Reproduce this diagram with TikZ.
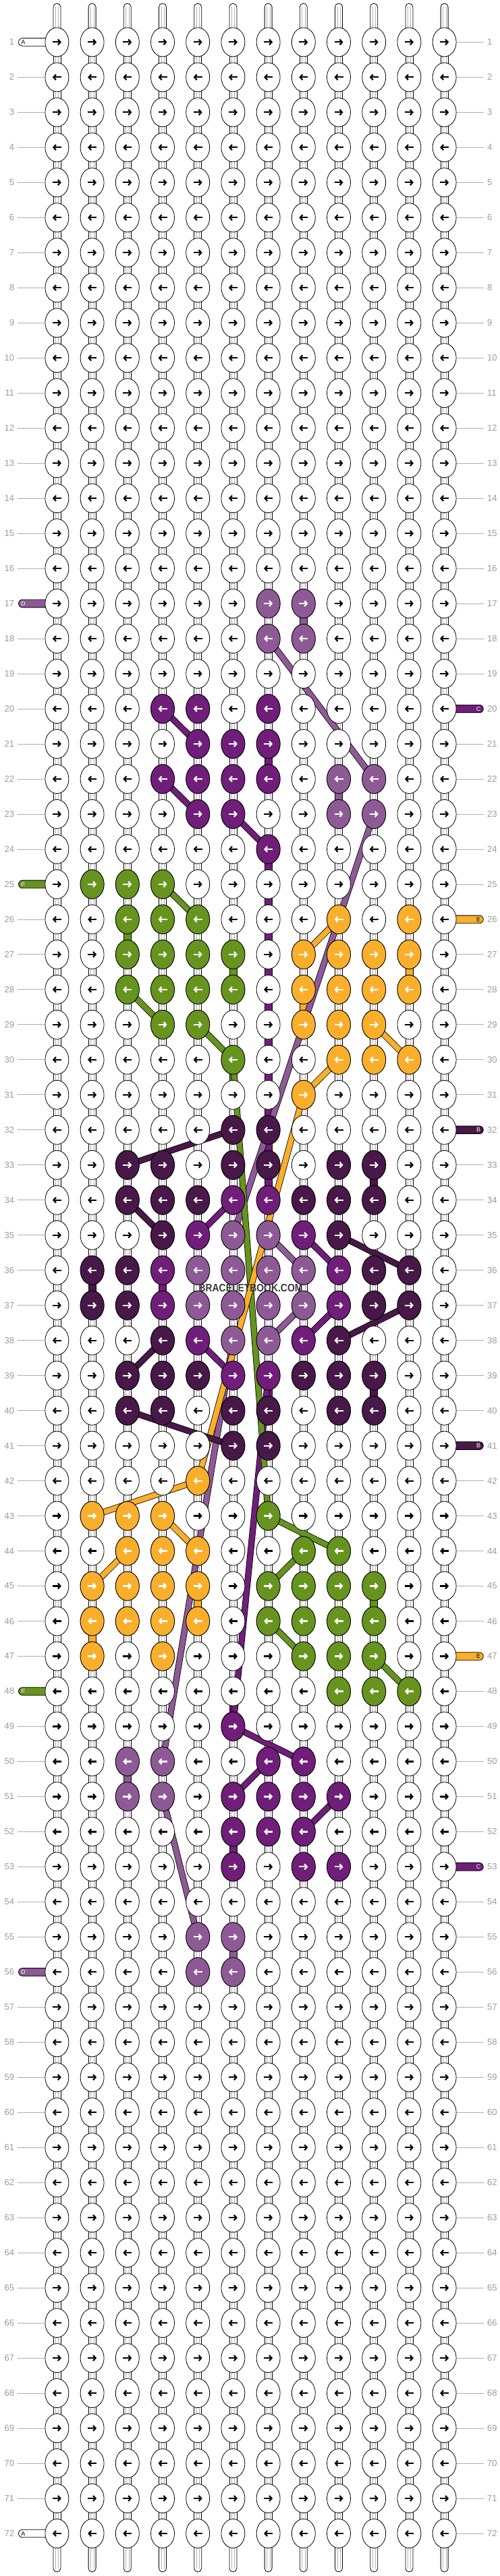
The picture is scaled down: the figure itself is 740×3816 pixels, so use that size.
\documentclass[tikz,border=0pt]{standalone}
\usepackage{fontspec}
\setmainfont{Liberation Sans}
\usetikzlibrary{shapes.geometric,arrows.meta}

\definecolor{thrD}{HTML}{8E5A96}
\definecolor{thrC}{HTML}{701E7A}
\definecolor{thrB}{HTML}{471848}
\definecolor{thrF}{HTML}{66941F}
\definecolor{thrE}{HTML}{F9AF2B}
\definecolor{rowgray}{HTML}{9A9A9A}

\pgfdeclarelayer{vlayer}
\pgfdeclarelayer{tlayer}
\pgfdeclarelayer{hlayer}
\pgfsetlayers{vlayer,tlayer,hlayer,main}

\tikzset{
knot/.style={ellipse, draw, line width=0.8pt, fill=white, inner sep=0pt,
  minimum width=35pt, minimum height=43pt},
knotarr/.style={line width=2.2pt, -{Straight Barb[length=3.6pt,width=8pt]}},
hcon/.style={draw, fill=white, line width=0.8pt},
vcon/.style={draw, fill=#1, line width=0.8pt},
vcon/.default=white,
innerline/.style={draw=gray!60, line width=0.5pt},
thr/.style={preaction={draw=black, line width=9.4pt}, draw=#1, line width=7.8pt},
rowline/.style={draw=rowgray!80, line width=0.8pt},
rowlbl/.style={text=rowgray, font=\fontsize{13}{13}\selectfont, inner sep=0pt},
stub/.style={draw, line width=0.8pt},
stublbl/.style={font=\fontsize{9}{9}\selectfont, inner sep=0pt},
}

% arrow of one knot, direction from the row
\newcommand\knotarrow[3]{%
  \ifodd#1\relax
    \draw[knotarr,#3] ([xshift=-6.5pt]k-#1-#2.center) -- ([xshift=6.5pt]k-#1-#2.center);
  \else
    \draw[knotarr,#3] ([xshift=6.5pt]k-#1-#2.center) -- ([xshift=-6.5pt]k-#1-#2.center);
  \fi}

\begin{document}
\begin{tikzpicture}[x=52.2pt,y=-51.98pt]
\useasboundingbox (-32.2pt,10.42pt) rectangle (707.8pt,-3805.58pt);

% knots
\foreach \r in {1,...,72}
  \foreach \c in {1,...,12}{
    \node[knot] (k-\r-\c) at (\c,\r) {};
    \knotarrow{\r}{\c}{black}
  }

% coloured knots
\foreach \r/\c/\col in {
  17/7/thrD, 17/8/thrD, 18/7/thrD, 18/8/thrD,
  20/4/thrC, 20/5/thrC, 20/7/thrC,
  21/5/thrC, 21/6/thrC, 21/7/thrC,
  22/4/thrC, 22/5/thrC, 22/6/thrC, 22/7/thrC, 22/9/thrD, 22/10/thrD,
  23/5/thrC, 23/6/thrC, 23/9/thrD, 23/10/thrD,
  24/7/thrC,
  25/2/thrF, 25/3/thrF, 25/4/thrF,
  26/3/thrF, 26/4/thrF, 26/5/thrF, 26/9/thrE, 26/11/thrE,
  27/3/thrF, 27/4/thrF, 27/5/thrF, 27/6/thrF, 27/8/thrE, 27/9/thrE, 27/10/thrE, 27/11/thrE,
  28/3/thrF, 28/4/thrF, 28/5/thrF, 28/6/thrF, 28/8/thrE, 28/9/thrE, 28/10/thrE, 28/11/thrE,
  29/4/thrF, 29/5/thrF, 29/8/thrE, 29/9/thrE, 29/10/thrE,
  30/6/thrF, 30/9/thrE, 30/10/thrE, 30/11/thrE,
  31/8/thrE,
  32/6/thrB, 32/7/thrB,
  33/3/thrB, 33/4/thrB, 33/6/thrB, 33/7/thrB, 33/9/thrB, 33/10/thrB,
  34/3/thrB, 34/4/thrB, 34/5/thrB, 34/6/thrC, 34/7/thrC, 34/8/thrB, 34/9/thrB, 34/10/thrB,
  35/4/thrB, 35/5/thrC, 35/6/thrD, 35/7/thrD, 35/8/thrC, 35/9/thrB,
  36/2/thrB, 36/3/thrB, 36/4/thrC, 36/5/thrD, 36/6/thrD, 36/7/thrD, 36/8/thrD, 36/9/thrC, 36/10/thrB, 36/11/thrB,
  37/2/thrB, 37/3/thrB, 37/4/thrC, 37/5/thrD, 37/6/thrD, 37/7/thrD, 37/8/thrD, 37/9/thrC, 37/10/thrB, 37/11/thrB,
  38/4/thrB, 38/5/thrC, 38/6/thrD, 38/7/thrD, 38/8/thrC, 38/9/thrB,
  39/3/thrB, 39/4/thrB, 39/5/thrB, 39/6/thrC, 39/7/thrC, 39/8/thrB, 39/9/thrB, 39/10/thrB,
  40/3/thrB, 40/4/thrB, 40/6/thrB, 40/7/thrB, 40/9/thrB, 40/10/thrB,
  41/6/thrB, 41/7/thrB,
  42/5/thrE,
  43/2/thrE, 43/3/thrE, 43/4/thrE, 43/7/thrF,
  44/3/thrE, 44/4/thrE, 44/5/thrE, 44/8/thrF, 44/9/thrF,
  45/2/thrE, 45/3/thrE, 45/4/thrE, 45/5/thrE, 45/7/thrF, 45/8/thrF, 45/9/thrF, 45/10/thrF,
  46/2/thrE, 46/3/thrE, 46/4/thrE, 46/5/thrE, 46/7/thrF, 46/8/thrF, 46/9/thrF, 46/10/thrF,
  47/2/thrE, 47/4/thrE, 47/8/thrF, 47/9/thrF, 47/10/thrF,
  48/9/thrF, 48/10/thrF, 48/11/thrF,
  49/6/thrC,
  50/3/thrD, 50/4/thrD, 50/7/thrC, 50/8/thrC,
  51/3/thrD, 51/4/thrD, 51/6/thrC, 51/7/thrC, 51/8/thrC, 51/9/thrC,
  52/6/thrC, 52/7/thrC, 52/8/thrC,
  53/6/thrC, 53/8/thrC, 53/9/thrC,
  55/5/thrD, 55/6/thrD, 56/5/thrD, 56/6/thrD}{
    \node[knot, fill=\col] (k-\r-\c) at (\c,\r) {};
    \knotarrow{\r}{\c}{white}
  }

\begin{pgfonlayer}{vlayer}
  % tails
  \foreach \c in {1,...,12}{
    \draw[vcon] ([xshift=-5.5pt]k-1-\c.center) -- ([xshift=-5.5pt,yshift=51.9pt]k-1-\c.center)
      arc[start angle=180,end angle=0,radius=5.5pt] -- ([xshift=5.5pt]k-1-\c.center);
    \draw[vcon] ([xshift=-5.5pt]k-72-\c.center) -- ([xshift=-5.5pt,yshift=-51.5pt]k-72-\c.center)
      arc[start angle=180,end angle=360,radius=5.5pt] -- ([xshift=5.5pt]k-72-\c.center);
    \foreach \s in {-2.2pt,2.2pt}{
      \draw[innerline] ([xshift=\s]k-1-\c.center) -- ([xshift=\s,yshift=52pt]k-1-\c.center);
      \draw[innerline] ([xshift=\s]k-72-\c.center) -- ([xshift=\s,yshift=-52pt]k-72-\c.center);
    }
  }
  % vertical connectors
  \foreach \r [evaluate=\r as \n using int(\r+1)] in {1,...,71}
    \foreach \c in {1,...,12}{
      \draw[vcon] ([xshift=-5.5pt]k-\r-\c.center) rectangle ([xshift=5.5pt]k-\n-\c.center);
      \draw[innerline] ([xshift=-2.2pt]k-\r-\c.center) -- ([xshift=-2.2pt]k-\n-\c.center);
      \draw[innerline] ([xshift=2.2pt]k-\r-\c.center) -- ([xshift=2.2pt]k-\n-\c.center);
    }
  \foreach \c/\r/\col in {8/17/thrD, 9/22/thrD, 3/50/thrD, 6/55/thrD,
      7/21/thrC, 7/24/thrC, 7/25/thrC, 7/26/thrC, 7/27/thrC, 7/28/thrC, 7/29/thrC,
      7/30/thrC, 7/31/thrC, 7/32/thrC, 7/33/thrC, 4/36/thrC, 6/52/thrC, 7/39/thrC, 6/48/thrC,
      3/26/thrF, 6/27/thrF, 6/30/thrF, 10/45/thrF,
      11/27/thrE, 8/28/thrE, 5/45/thrE, 2/46/thrE,
      10/33/thrB, 2/36/thrB, 10/39/thrB}{
    \pgfmathtruncatemacro\n{\r+1}
    \draw[vcon=\col] ([xshift=-5.5pt]k-\r-\c.center) rectangle ([xshift=5.5pt]k-\n-\c.center);
  }
  % row lines
  \foreach \r in {2,3,...,16,18,19,...,24,26,27,...,47,49,50,...,55,57,58,...,71}
    \draw[rowline] (k-\r-1.center) -- ([xshift=-58.4pt]k-\r-1.center);
  \foreach \r in {1,2,...,19,21,22,...,25,27,28,...,31,33,34,...,40,42,43,...,46,48,49,...,52,54,55,...,72}
    \draw[rowline] (k-\r-12.center) -- ([xshift=58.4pt]k-\r-12.center);
  % thread ends
  \foreach \r/\col/\ltr/\tcol in {1/white/A/black, 17/thrD/D/white, 25/thrF/F/white,
      48/thrF/F/white, 56/thrD/D/white, 72/white/A/black}{
    \draw[stub, fill=\col] ([yshift=5.8pt]k-\r-1.center) -- ([xshift=-51.1pt,yshift=5.8pt]k-\r-1.center)
      arc[start angle=90,end angle=270,radius=5.8pt] -- ([yshift=-5.8pt]k-\r-1.center);
    \node[stublbl, text=\tcol] (sl-\r) at ([xshift=-50pt]k-\r-1.center) {\ltr};
  }
  \foreach \r/\col/\ltr/\tcol in {20/thrC/C/white, 26/thrE/E/black, 32/thrB/B/white,
      41/thrB/B/white, 47/thrE/E/black, 53/thrC/C/white}{
    \draw[stub, fill=\col] ([yshift=5.8pt]k-\r-12.center) -- ([xshift=51.9pt,yshift=5.8pt]k-\r-12.center)
      arc[start angle=90,end angle=-90,radius=5.8pt] -- ([yshift=-5.8pt]k-\r-12.center);
    \node[stublbl, text=\tcol] (sr-\r) at ([xshift=50.4pt]k-\r-12.center) {\ltr};
  }
\end{pgfonlayer}

% threads carried across
\begin{pgfonlayer}{tlayer}
  \foreach \a/\b/\col in {
      18-7/22-10/thrD, 23-10/35-6/thrD, 35-7/36-8/thrD, 38-7/37-8/thrD,
      38-6/50-4/thrD, 51-4/55-5/thrD,
      20-4/21-5/thrC, 22-4/23-5/thrC, 23-6/24-7/thrC, 34-6/35-5/thrC,
      35-8/36-9/thrC, 37-9/38-8/thrC, 38-5/39-6/thrC, 39-7/49-6/thrC,
      49-6/50-8/thrC, 50-7/51-6/thrC, 51-9/52-8/thrC,
      25-4/26-5/thrF, 28-3/29-4/thrF, 29-5/30-6/thrF, 30-6/43-7/thrF,
      43-7/44-9/thrF, 44-8/45-7/thrF, 46-7/47-8/thrF, 47-10/48-11/thrF,
      26-9/27-8/thrE, 29-10/30-11/thrE, 30-9/31-8/thrE, 31-8/42-5/thrE,
      42-5/43-2/thrE, 43-4/44-5/thrE, 44-3/45-2/thrE,
      32-6/33-3/thrB, 34-3/35-4/thrB, 35-9/36-11/thrB, 38-9/37-11/thrB,
      38-4/39-3/thrB, 40-3/41-6/thrB}
    \draw[thr=\col] (k-\a.center) -- (k-\b.center);
\end{pgfonlayer}

% horizontal connectors
\begin{pgfonlayer}{hlayer}
  \foreach \r in {1,...,72}
    \foreach \c [evaluate=\c as \n using int(\c+1)] in {1,...,11}
      \draw[hcon] ([yshift=5.5pt]k-\r-\c.center) rectangle ([yshift=-5.5pt]k-\r-\n.center);
\end{pgfonlayer}

% row numbers
\foreach \r in {1,...,72}{
  \node[rowlbl, anchor=east] (nl-\r) at ([xshift=-63.1pt]k-\r-1.center) {\r};
  \node[rowlbl, anchor=west] (nr-\r) at ([xshift=63.4pt]k-\r-12.center) {\r};
}

\node[text=black!78, font=\bfseries\fontsize{16}{16}\selectfont, xscale=0.87, inner sep=0pt]
  (mark) at (6.5,36.5) {BRACELETBOOK.COM};

\end{tikzpicture}
\end{document}
